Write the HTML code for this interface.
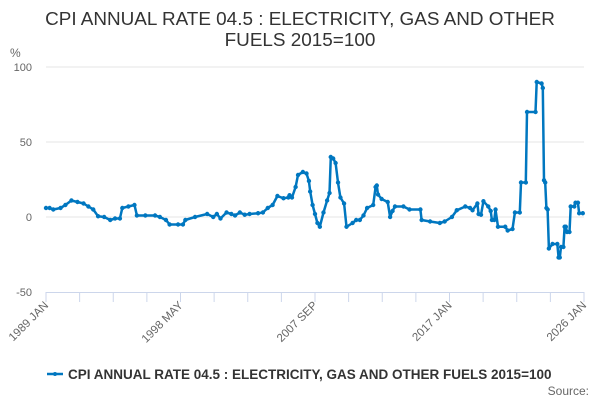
<!DOCTYPE html>
<html><head><meta charset="utf-8"><style>
body{margin:0;background:#fff;}
svg{display:block;font-family:"Liberation Sans","DejaVu Sans",sans-serif;}
</style></head><body>
<svg id="chart" width="600" height="400">
<text x="300" y="25" text-anchor="middle" font-size="18.9" fill="#333">CPI ANNUAL RATE 04.5 : ELECTRICITY, GAS AND OTHER</text>
<text x="300" y="46" text-anchor="middle" font-size="18.9" fill="#333">FUELS 2015=100</text>
<text x="10" y="57" font-size="12" fill="#666">%</text>
<g id="grid"></g><g id="xaxis"></g><g id="series"></g>
<g>
<line x1="47" y1="374" x2="63" y2="374" stroke="#0077c0" stroke-width="2.5"/>
<circle cx="55" cy="374" r="2" fill="#0077c0"/>
<text x="68" y="379" font-size="13.5" font-weight="bold" fill="#333">CPI ANNUAL RATE 04.5 : ELECTRICITY, GAS AND OTHER FUELS 2015=100</text>
</g>
<text x="589" y="395" font-size="12" fill="#666" text-anchor="end">Source:</text>
</svg>
<script>
const yTicks=[100,50,0,-50];
const xTickLabels=["1989 JAN","1998 MAY","2007 SEP","2017 JAN","2026 JAN"];
const months=[0,3,6,12,16,21,26,31,35,39,43,48,53,57,61,63,68,73,75,82,90,94,99,102,109,113,115,123,133,138,141,144,149,153,156,160,164,168,175,179,183,187,191,196,200,201,203,206,208,212,215,217,218,220,222,224,226,229,232,234,235,237,239,241,243,246,248,253,256,259,262,265,270,272,273,274,277,282,284,286,288,295,300,309,310,317,325,329,335,339,346,350,352,356,357,359,361,365,367,368,370,371,373,379,381,385,387,391,392,396,397,404,405,409,410,411,412,413,414,415,418,422,423,424,425,427,428,429,430,432,433,436,437,439,440,443];
const values=[6,6,5,6,8,11,10,9,7,5,0.5,0,-2,-1,-1,6,7,8,1,1,1,0,-2,-5,-5,-5,-2,0,2,0,2,-1,3,2,1,3,1.5,2,2.5,3,6,8,14,12.5,13,14.5,13,20,28,30,29,24,17,8,2,-4,-6.5,3,11,16,40,39,36,23,13,9,-6.5,-4,-2,-2,1,6,8,20,21,15,12,10,0,4,7,7,5,5,-2,-3,-4,-3,0,4.5,7,6,4.5,9,2,1.5,10.5,7,4,-2,-2,5,-6.5,-6.5,-9,-8,3,3,23,23,70,70,90,89,86,24.5,23,6,5,-21,-18,-18,-27,-27,-20,-20,-6.5,-6.5,-10,-10,7,7,9.5,9.5,2.5,2.5];
const X0=46,X1=584,TOTAL=444,Y0=217,PPU=1.5;
const xs=m=>X0+m*(X1-X0)/TOTAL, ys=v=>Y0-v*PPU;
const NS="http://www.w3.org/2000/svg";
const mk=(t,a,p)=>{const e=document.createElementNS(NS,t);for(const k in a)e.setAttribute(k,a[k]);p.appendChild(e);return e;};
const grid=document.getElementById('grid');
yTicks.forEach(v=>{
 if(v!==-50){const l=mk('line',{x1:X0,x2:X1,y1:ys(v),y2:ys(v),stroke:'#e6e6e6','stroke-width':1},grid);
 
 }
 const t=mk('text',{x:32,y:ys(v)+4,'text-anchor':'end','font-size':11,fill:'#666'},grid);
 t.textContent=v;
 
 
});
const xa=document.getElementById('xaxis');
const ax=mk('line',{x1:X0,x2:X1,y1:292.5,y2:292.5,stroke:'#ccd6eb','stroke-width':1},xa);


for(let i=0;i<=16;i++){
 const x=X0+i*(X1-X0)/16;
 const tk=mk('line',{x1:x,x2:x,y1:292,y2:302,stroke:'#ccd6eb'},xa);
 
 
 if(i%4===0){
  const t=mk('text',{x:x+3,y:306,'text-anchor':'end','font-size':11.5,fill:'#666',transform:`rotate(-45 ${x+3} 306)`},xa);
  t.textContent=xTickLabels[i/4];
  
  
 }
}
const s=document.getElementById('series');
const pts=months.map((m,i)=>xs(m).toFixed(1)+','+ys(values[i]).toFixed(1)).join(' ');
const pl=mk('polyline',{points:pts,fill:'none',stroke:'#0077c0','stroke-width':2.5,'stroke-linejoin':'round'},s);


months.forEach((m,i)=>{
 const c=mk('circle',{cx:xs(m),cy:ys(values[i]),r:2.2,fill:'#0077c0'},s);
 
 
});
</script>
</body></html>
